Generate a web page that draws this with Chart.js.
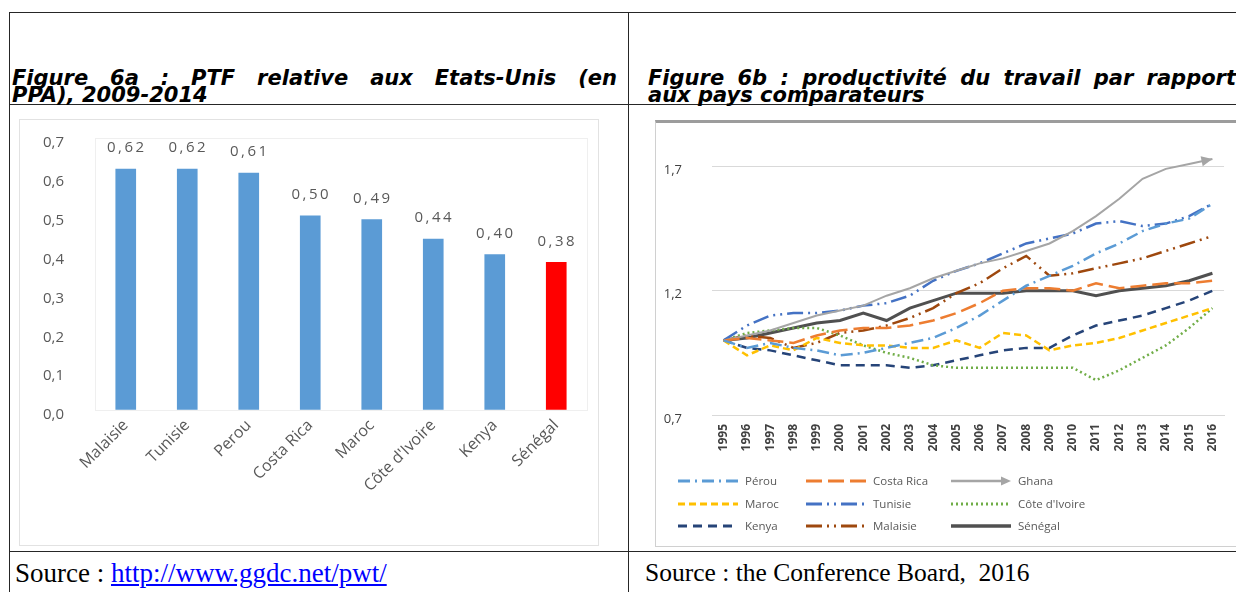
<!DOCTYPE html>
<html><head><meta charset="utf-8">
<script src="https://cdn.jsdelivr.net/npm/chart.js@4.4.1/dist/chart.umd.min.js"></script>
<style>
html,body{margin:0;padding:0;background:#fff;}
body{width:1236px;height:592px;overflow:hidden;position:relative;}
.ln{position:absolute;background:#262626;}
.title{position:absolute;font-family:"DejaVu Sans",sans-serif;font-weight:700;font-style:italic;font-size:21px;line-height:17px;color:#000;white-space:nowrap;}
.j{text-align:justify;text-align-last:justify;}
.box{position:absolute;background:#fff;box-sizing:border-box;}
.src{position:absolute;font-family:"Liberation Serif",serif;font-size:27px;line-height:30px;color:#000;white-space:pre;}
.src a{color:#0000ff;text-decoration:underline;}
canvas{position:absolute;}
</style></head>
<body>
<div class="ln" style="left:9px;top:12px;width:1227px;height:1px"></div>
<div class="ln" style="left:9px;top:12px;width:1px;height:580px"></div>
<div class="ln" style="left:628px;top:12px;width:1px;height:580px"></div>
<div class="ln" style="left:9px;top:104px;width:1227px;height:1px"></div>
<div class="ln" style="left:9px;top:551px;width:1227px;height:1px"></div>

<div class="title" style="left:12px;top:70px;width:605px">
<div class="j">Figure 6a : PTF relative aux Etats-Unis (en</div>
<div>PPA), 2009-2014</div></div>
<div class="title" style="left:648px;top:70px;width:588px">
<div class="j">Figure 6b : productivité du travail par rapport</div>
<div>aux pays comparateurs</div></div>

<div class="box" style="left:19px;top:119px;width:580px;height:427px;border:1px solid #e2e2e2;"></div>
<div class="box" style="left:655px;top:120px;width:620px;height:427px;border:1px solid #d0d0d0;border-top:3px solid #9c9c9c;"></div>

<canvas id="c1" width="578" height="425" style="left:20px;top:120px"></canvas>
<canvas id="c2" width="579" height="422" style="left:657px;top:123px"></canvas>

<div class="src" style="left:15px;top:558px">Source : <a href="#">http://www.ggdc.net/pwt/</a></div>
<div class="src" style="left:645px;top:558px;font-size:25.5px">Source : the Conference Board,  2016</div>

<script>
// ---------- Figure 6a data ----------
const barCategories = ['Malaisie', 'Tunisie', 'Perou', 'Costa Rica', 'Maroc', "Côte d'Ivoire", 'Kenya', 'Sénégal'];
const barValues = [0.62, 0.62, 0.61, 0.50, 0.49, 0.44, 0.40, 0.38];
const barYTicks = [0, 0.1, 0.2, 0.3, 0.4, 0.5, 0.6, 0.7];
const highlightCategory = 'Sénégal';

// ---------- Figure 6b data ----------
const years = ['1995','1996','1997','1998','1999','2000','2001','2002','2003','2004','2005','2006','2007','2008','2009','2010','2011','2012','2013','2014','2015','2016'];
const perou      = [1.00,0.97,0.99,0.97,0.96,0.94,0.95,0.97,0.99,1.01,1.05,1.10,1.16,1.22,1.26,1.30,1.35,1.39,1.44,1.47,1.49,1.55];
const costaRica  = [1.00,1.01,1.00,0.99,1.02,1.04,1.05,1.05,1.06,1.08,1.11,1.15,1.20,1.21,1.21,1.20,1.23,1.21,1.22,1.23,1.23,1.24];
const ghana      = [1.00,1.02,1.04,1.07,1.10,1.12,1.14,1.18,1.21,1.25,1.28,1.31,1.33,1.36,1.39,1.44,1.50,1.57,1.65,1.69,1.71,1.73];
const maroc      = [1.00,0.94,0.98,0.96,1.01,0.99,0.98,0.98,0.97,0.97,1.00,0.97,1.03,1.02,0.96,0.98,0.99,1.01,1.04,1.07,1.10,1.13];
const tunisie    = [1.00,1.06,1.10,1.11,1.11,1.12,1.14,1.15,1.18,1.24,1.28,1.31,1.35,1.39,1.41,1.43,1.47,1.48,1.46,1.47,1.50,1.55];
const coteIvoire = [1.00,1.03,1.04,1.05,1.05,1.02,0.98,0.95,0.93,0.90,0.89,0.89,0.89,0.89,0.89,0.89,0.84,0.88,0.93,0.98,1.05,1.13];
const kenya      = [1.00,0.97,0.96,0.94,0.92,0.90,0.90,0.90,0.89,0.90,0.92,0.94,0.96,0.97,0.97,1.02,1.06,1.08,1.10,1.13,1.16,1.20];
const malaisie   = [1.00,1.02,1.01,0.97,0.99,1.03,1.04,1.06,1.09,1.13,1.19,1.23,1.29,1.34,1.26,1.27,1.29,1.31,1.33,1.36,1.39,1.42];
const senegal    = [1.00,1.01,1.03,1.05,1.07,1.08,1.11,1.08,1.13,1.16,1.19,1.19,1.19,1.20,1.20,1.20,1.18,1.20,1.21,1.22,1.24,1.27];
const lineYTicks = [0.7, 1.2, 1.7];

Chart.defaults.font.family = '"Open Sans", sans-serif';
Chart.defaults.color = '#595959';
const comma = (v, d) => Number(v).toFixed(d).replace('.', ',');

// ---------- Bar chart ----------
const barLabelPlugin = {
  id: 'barLabels',
  afterDatasetsDraw(chart) {
    const ctx = chart.ctx;
    const meta = chart.getDatasetMeta(0);
    ctx.save();
    ctx.font = '15px "Open Sans", sans-serif';
    ctx.fillStyle = '#595959';
    ctx.textAlign = 'center';
    ctx.textBaseline = 'middle';
    try { ctx.letterSpacing = '2.5px'; } catch (e) {}
    meta.data.forEach((bar, i) => {
      const txt = comma(chart.data.datasets[0].data[i], 2);
      ctx.fillText(txt, bar.x + 1, bar.y - 21);
    });
    ctx.restore();
  },
  beforeDatasetsDraw(chart) {
    const a = chart.chartArea, ctx = chart.ctx;
    ctx.save();
    ctx.strokeStyle = '#efefef';
    ctx.lineWidth = 1;
    ctx.strokeRect(a.left + 0.5, a.top + 0.5, a.right - a.left, a.bottom - a.top);
    ctx.restore();
  }
};

new Chart(document.getElementById('c1'), {
  type: 'bar',
  data: {
    labels: barCategories,
    datasets: [{
      data: barValues,
      backgroundColor: ctx => barCategories[ctx.dataIndex] === highlightCategory ? '#ff0000' : '#5b9bd5',
      barThickness: 20
    }]
  },
  options: {
    responsive: false,
    animation: false,
    layout: { padding: { left: 0, top: 18, right: 11, bottom: 0 } },
    plugins: { legend: { display: false }, tooltip: { enabled: false } },
    scales: {
      x: {
        grid: { display: false, drawTicks: false },
        border: { display: true, color: '#d9d9d9' },
        ticks: { minRotation: 45, maxRotation: 45, autoSkip: false, padding: 6, labelOffset: 0, color: '#595959', font: { size: 16 } },
        afterFit: s => { s.height = 135; }
      },
      y: {
        min: 0, max: 0.7,
        grid: { display: true, color: 'transparent', drawTicks: true, tickLength: 31, tickColor: 'transparent' },
        border: { display: false },
        afterBuildTicks: s => { s.ticks = barYTicks.map(v => ({ value: v })); },
        ticks: { padding: 0, labelOffset: 5, color: '#595959', font: { size: 15 }, callback: v => comma(v, 1) },
        afterFit: s => { s.width = 75; }
      }
    }
  },
  plugins: [barLabelPlugin]
});

// ---------- Line chart ----------
function drawArrow(ctx, x, y, ang, color, len, half) {
  ctx.save();
  ctx.translate(x, y);
  ctx.rotate(ang);
  ctx.fillStyle = color;
  ctx.beginPath();
  ctx.moveTo(0, 0);
  ctx.lineTo(-len, -half);
  ctx.lineTo(-len, half);
  ctx.closePath();
  ctx.fill();
  ctx.restore();
}

const arrowPlugin = {
  id: 'arrowEnd',
  afterDatasetsDraw(chart) {
    chart.data.datasets.forEach((ds, i) => {
      if (!ds.arrowEnd) return;
      const pts = chart.getDatasetMeta(i).data;
      const p1 = pts[pts.length - 2], p2 = pts[pts.length - 1];
      const ang = Math.atan2(p2.y - p1.y, p2.x - p1.x);
      drawArrow(chart.ctx, p2.x, p2.y, ang, ds.borderColor, 11, 5);
    });
  }
};

const gridLegendPlugin = {
  id: 'gridLegend',
  afterDraw(chart) {
    const ctx = chart.ctx;
    const colX = [21, 149, 294];
    const rowY = [358, 381, 403];
    const sampleLen = 60;
    chart.data.datasets.forEach((ds, i) => {
      const x0 = colX[i % 3], y = rowY[Math.floor(i / 3)];
      ctx.save();
      ctx.strokeStyle = ds.borderColor;
      ctx.lineWidth = ds.borderWidth + 0.5;
      ctx.setLineDash(ds.borderDash || []);
      ctx.beginPath();
      ctx.moveTo(x0, y);
      ctx.lineTo(x0 + sampleLen - (ds.arrowEnd ? 8 : 0), y);
      ctx.stroke();
      ctx.setLineDash([]);
      if (ds.arrowEnd) drawArrow(ctx, x0 + sampleLen, y, 0, ds.borderColor, 10, 4.5);
      ctx.fillStyle = '#595959';
      ctx.font = '11.5px "Open Sans", sans-serif';
      ctx.textBaseline = 'middle';
      ctx.textAlign = 'left';
      ctx.fillText(ds.label, x0 + sampleLen + 7, y + 1);
      ctx.restore();
    });
  }
};

const mk = (label, data, color, width, dash, extra) => Object.assign({
  label, data, borderColor: color, backgroundColor: color, borderWidth: width,
  borderDash: dash, pointRadius: 0, tension: 0, fill: false, clip: false,
  borderCapStyle: 'butt'
}, extra || {});

new Chart(document.getElementById('c2'), {
  type: 'line',
  data: {
    labels: years,
    datasets: [
      mk('Pérou', perou, '#5b9bd5', 2.5, [12, 5, 2, 5]),
      mk('Costa Rica', costaRica, '#ed7d31', 2.5, [16, 6]),
      mk('Ghana', ghana, '#a5a5a5', 2, [], { arrowEnd: true }),
      mk('Maroc', maroc, '#ffc000', 2.5, [7, 4]),
      mk('Tunisie', tunisie, '#4472c4', 2.5, [16, 5, 2, 5, 2, 5]),
      mk("Côte d'Ivoire", coteIvoire, '#70ad47', 2.5, [2, 3]),
      mk('Kenya', kenya, '#264478', 2.5, [9, 6]),
      mk('Malaisie', malaisie, '#9e480e', 2.5, [16, 5, 2, 5, 2, 5]),
      mk('Sénégal', senegal, '#505050', 3, [])
    ]
  },
  options: {
    responsive: false,
    animation: false,
    layout: { padding: { left: 0, top: 26, right: 8, bottom: 90 } },
    plugins: { legend: { display: false }, tooltip: { enabled: false } },
    scales: {
      x: {
        offset: true,
        grid: { display: false, drawTicks: false },
        border: { display: true, color: '#d9d9d9' },
        ticks: { minRotation: 90, maxRotation: 90, autoSkip: false, padding: 9, color: '#404040', font: { size: 12, weight: 'bold' } },
        afterFit: s => { s.height = 40; }
      },
      y: {
        min: 0.7, max: 1.77,
        grid: { color: '#d9d9d9', drawTicks: true, tickLength: 30, tickColor: 'transparent' },
        border: { display: false },
        afterBuildTicks: s => { s.ticks = lineYTicks.map(v => ({ value: v })); },
        ticks: { padding: 0, labelOffset: 4, color: '#404040', font: { size: 13 }, callback: v => comma(v, 1) },
        afterFit: s => { s.width = 55; }
      }
    }
  },
  plugins: [arrowPlugin, gridLegendPlugin]
});
</script>
</body></html>
